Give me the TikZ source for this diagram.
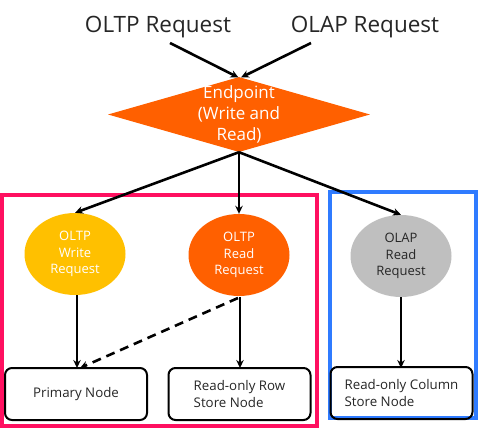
\documentclass[tikz,border=0pt]{standalone}
\usepackage{fontspec}
\setmainfont{Open Sans}
\usetikzlibrary{shapes.geometric,arrows.meta}
\definecolor{epor}{HTML}{FF6000}
\definecolor{ylw}{HTML}{FFC000}
\definecolor{gry}{HTML}{BFBFBF}
\definecolor{pnk}{HTML}{FF1060}
\definecolor{blu}{HTML}{2F7BFF}
\tikzset{
  arr/.style={draw=black, line width=2.6pt, -{Stealth[length=8pt,width=7.5pt]}},
  title/.style={font=\fontsize{22.5}{26}\selectfont, text=black!85, inner sep=0},
  req/.style={ellipse, minimum width=101pt, minimum height=82pt, inner sep=0, align=center, font=\fontsize{13}{16.5}\selectfont},
  box/.style={draw=black, line width=2pt, rounded corners=7pt, minimum width=142pt, minimum height=52pt, align=left, font=\fontsize{13.3}{16.5}\selectfont, text=black!85, inner sep=0},
  grp/.style={line width=3.4pt}
}
\begin{document}
\begin{tikzpicture}[x=1pt,y=-1pt]
\useasboundingbox (0,0) rectangle (480,428);
\fill[white] (0,0) rectangle (480,428);
% groups
\draw[grp, draw=pnk] (2,195) rectangle (317,426);
\draw[grp, draw=blu] (330,192) rectangle (476,418);
% titles
\node[title] (t1) at (158,27) {OLTP Request};
\node[title] (t2) at (365,27) {OLAP Request};
\coordinate (s1) at (170,43);
\coordinate (s2) at (311,43);
% endpoint
\node[diamond, fill=epor, minimum width=262pt, minimum height=75pt, inner sep=0] (ep) at (239,114.5) {};
\node[align=center, text=white, font=\fontsize{17}{21}\selectfont, inner sep=0] (eptxt) at (ep) {Endpoint\\(Write and\\Read)};
% requests
\node[req, fill=ylw, text=white] (w) at (75,254) {OLTP\\Write\\Request};
\node[req, fill=epor, text=white] (r) at (239,255) {OLTP\\Read\\Request};
\node[req, fill=gry, text=black!85] (a) at (401,256) {OLAP\\Read\\Request};
% storage nodes
\node[box] (p) at (76,394) {Primary Node};
\node[box] (rr) at (239.5,394) {Read-only Row\\Store Node};
\node[box] (rc) at (401.5,393) {Read-only Column\\Store Node};
% connectors
\draw[arr] (s1) -- (238.5,77.5);
\draw[arr] (s2) -- (241,77.5);
\draw[arr] (ep.south) -- (w.north);
\draw[arr] (ep.south) -- (r.north);
\draw[arr] (ep.south) -- (a.north);
\draw[arr] (77,295) -- (77,368);
\draw[arr] (240,297) -- (240,368);
\draw[arr] (401,297) -- (401,368);
\draw[arr, dash pattern=on 9pt off 6pt] (238,298) -- (80,368);
\end{tikzpicture}
\end{document}
